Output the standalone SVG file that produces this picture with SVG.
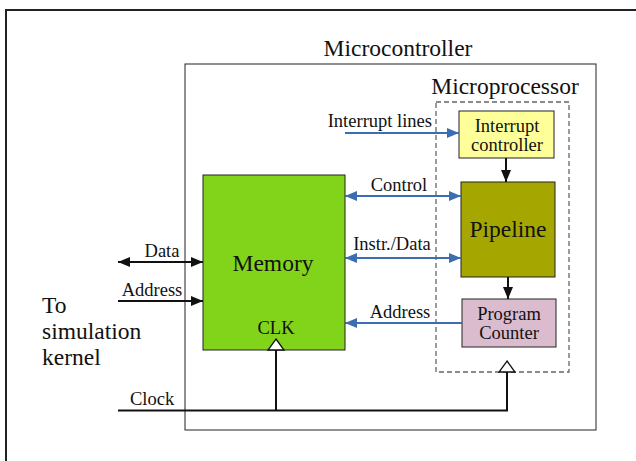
<svg xmlns="http://www.w3.org/2000/svg" width="636" height="461" viewBox="0 0 636 461">
<style>
text{font-family:"Liberation Serif","Times New Roman",serif;fill:#111}
.lbl{font-size:18.5px}
.big{font-size:23.5px}
.ttl{font-size:23.5px}
.blue{stroke:#3c6db0;stroke-width:2;fill:none}
.blk{stroke:#111;stroke-width:2;fill:none}
.box{stroke:#222;stroke-width:1}
</style>
<defs>
<marker id="ab" viewBox="0 0 12 10" refX="12" refY="5" markerWidth="12" markerHeight="10" markerUnits="userSpaceOnUse" orient="auto-start-reverse"><path d="M0,0 L12,5 L0,10 Z" fill="#3c6db0"/></marker>
<marker id="ak" viewBox="0 0 12 10" refX="12" refY="5" markerWidth="12" markerHeight="10" markerUnits="userSpaceOnUse" orient="auto-start-reverse"><path d="M0,0 L12,5 L0,10 Z" fill="#111"/></marker>
</defs>
<rect x="0" y="0" width="636" height="461" fill="#fff"/>
<rect x="6" y="10" width="650" height="480" fill="none" stroke="#222" stroke-width="2"/>
<g id="microcontroller">
<rect x="185" y="64" width="411" height="366" fill="none" stroke="#222" stroke-width="1"/>
<text class="ttl" x="398" y="56" text-anchor="middle">Microcontroller</text>
</g>
<g id="microprocessor">
<rect x="436" y="102" width="133" height="270" fill="none" stroke="#666" stroke-width="1.3" stroke-dasharray="5,3"/>
<text class="ttl" x="505" y="94" text-anchor="middle">Microprocessor</text>
</g>
<g id="memory">
<rect class="box" x="203" y="175" width="142" height="175" fill="#81d41a"/>
<text class="big" x="273" y="271" text-anchor="middle">Memory</text>
<text class="lbl" x="276" y="334" text-anchor="middle">CLK</text>
</g>
<g id="interrupt-controller">
<rect class="box" x="459" y="111" width="95" height="47" fill="#ffff99"/>
<text class="lbl" x="507" y="132" text-anchor="middle">Interrupt</text>
<text class="lbl" x="507" y="151" text-anchor="middle">controller</text>
</g>
<g id="pipeline">
<rect class="box" x="461" y="182" width="94" height="95" fill="#a6a600"/>
<text class="big" x="508" y="237" text-anchor="middle">Pipeline</text>
</g>
<g id="program-counter">
<rect class="box" x="462" y="299" width="94" height="48" fill="#dbbcce"/>
<text class="lbl" x="509" y="320" text-anchor="middle">Program</text>
<text class="lbl" x="509" y="339" text-anchor="middle">Counter</text>
</g>
<g id="sim-kernel">
<text class="big" x="42" y="313">To</text>
<text class="big" x="42" y="339">simulation</text>
<text class="big" x="42" y="365">kernel</text>
</g>
<g id="connectors">
<line class="blk" x1="118" y1="262" x2="203" y2="262" marker-start="url(#ak)" marker-end="url(#ak)"/>
<text class="lbl" x="162" y="257" text-anchor="middle">Data</text>
<line class="blk" x1="118" y1="301" x2="203" y2="301" marker-end="url(#ak)"/>
<text class="lbl" x="152" y="296" text-anchor="middle">Address</text>
<line class="blue" x1="345" y1="133" x2="459" y2="133" marker-end="url(#ab)"/>
<text class="lbl" x="432" y="127" text-anchor="end">Interrupt lines</text>
<line class="blue" x1="345" y1="196" x2="461" y2="196" marker-start="url(#ab)" marker-end="url(#ab)"/>
<text class="lbl" x="399" y="191" text-anchor="middle">Control</text>
<line class="blue" x1="345" y1="258" x2="461" y2="258" marker-start="url(#ab)" marker-end="url(#ab)"/>
<text class="lbl" x="392" y="250" text-anchor="middle">Instr./Data</text>
<line class="blue" x1="462" y1="323" x2="345" y2="323" marker-end="url(#ab)"/>
<text class="lbl" x="400" y="318" text-anchor="middle">Address</text>
<line class="blk" x1="506" y1="158" x2="506" y2="182" marker-end="url(#ak)"/>
<line class="blk" x1="508" y1="277" x2="508" y2="299" marker-end="url(#ak)"/>
<polyline class="blk" points="118,410.5 507,410.5 507,372"/>
<line class="blk" x1="276" y1="410.5" x2="276" y2="350"/>
<path d="M276,339 L284,350 L268,350 Z" fill="#fff" stroke="#111" stroke-width="1.3"/>
<path d="M507,361 L515,372 L499,372 Z" fill="#fff" stroke="#111" stroke-width="1.3"/>
<text class="lbl" x="130" y="405">Clock</text>
</g>
</svg>
